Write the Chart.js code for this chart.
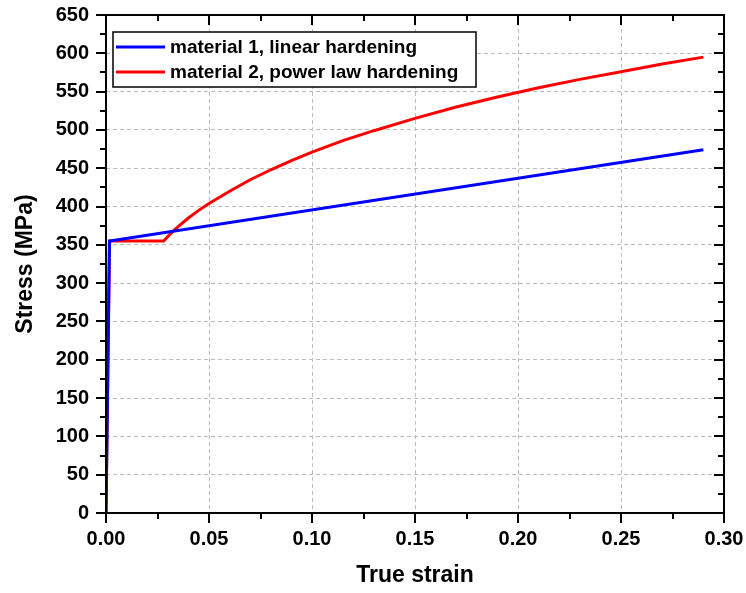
<!DOCTYPE html>
<html>
<head>
<meta charset="utf-8">
<script src="https://cdn.jsdelivr.net/npm/chart.js@4.4.0/dist/chart.umd.min.js"></script>
<style>
  body { margin: 0; background: #fff; }
  canvas { display: block; }
</style>
</head>
<body>
<canvas id="StressCanvas" width="746" height="593"></canvas>
<script>
// material 1, linear hardening
var strain1 = [0, 0.0017, 0.29];
var stress1 = [0, 355, 474];

// material 2, power law hardening
var strain2 = [0, 0.0017, 0.028, 0.03, 0.033, 0.036, 0.04, 0.045, 0.05, 0.06, 0.07, 0.08, 0.09, 0.10,
               0.115, 0.13, 0.15, 0.17, 0.19, 0.21, 0.23, 0.25, 0.27, 0.29];
var stress2 = [0, 355, 355, 361, 369, 376, 385, 395, 404, 420, 435, 448, 460, 471,
               486, 499, 515, 530, 543, 555, 566, 576, 586, 595];

var seriesLabels = ["material 1, linear hardening", "material 2, power law hardening"];
var xTicks = [0, 0.05, 0.10, 0.15, 0.20, 0.25, 0.30];
var yTicks = [0, 50, 100, 150, 200, 250, 300, 350, 400, 450, 500, 550, 600, 650];

function toPoints(xs, ys) {
    var pts = [];
    xs.forEach(function (x, i) {
        pts.push({ x: x, y: ys[i] });
    });
    return pts;
}

var FONT = "'Liberation Sans', Arial, sans-serif";

// frame + inward/outward ticks, origin-style
var framePlugin = {
    id: 'frame',
    afterDatasetsDraw: function (chart) {
        var ctx = chart.ctx;
        var a = chart.chartArea;
        var xs = chart.scales.x, ys = chart.scales.y;
        ctx.save();
        ctx.strokeStyle = '#000';
        ctx.lineWidth = 2;
        ctx.strokeRect(a.left, a.top, a.right - a.left, a.bottom - a.top);

        ctx.beginPath();
        var i, v, p, len;
        for (i = 0; i < xTicks.length * 2 - 1; i++) {
            v = i * 0.025;
            p = Math.round(xs.getPixelForValue(v));
            len = (i % 2 === 0) ? 10 : 6;
            ctx.moveTo(p, a.bottom);
            ctx.lineTo(p, a.bottom + len);
            ctx.moveTo(p, a.top);
            ctx.lineTo(p, a.top + len);
        }
        for (i = 0; i < yTicks.length * 2 - 1; i++) {
            v = i * 25;
            p = Math.round(ys.getPixelForValue(v));
            len = (i % 2 === 0) ? 10 : 6;
            ctx.moveTo(a.left, p);
            ctx.lineTo(a.left - len, p);
            ctx.moveTo(a.right, p);
            ctx.lineTo(a.right - len, p);
        }
        ctx.stroke();
        ctx.restore();
    }
};

var legendPlugin = {
    id: 'boxLegend',
    afterDraw: function (chart) {
        var ctx = chart.ctx;
        var a = chart.chartArea;
        var bx = a.left + 7, by = a.top + 17, bw = 363, bh = 55;
        ctx.save();
        ctx.fillStyle = '#fff';
        ctx.fillRect(bx, by, bw, bh);
        ctx.strokeStyle = '#000';
        ctx.lineWidth = 1.5;
        ctx.strokeRect(bx, by, bw, bh);
        ctx.font = 'bold 19px ' + FONT;
        ctx.textBaseline = 'middle';
        chart.data.datasets.forEach(function (ds, i) {
            var y = by + 15 + i * 25;
            ctx.strokeStyle = ds.borderColor;
            ctx.lineWidth = 3;
            ctx.beginPath();
            ctx.moveTo(bx + 3, y);
            ctx.lineTo(bx + 52, y);
            ctx.stroke();
            ctx.fillStyle = '#000';
            ctx.fillText(ds.label, bx + 57, y + 1);
        });
        ctx.restore();
    }
};

function gridColor(edges) {
    return function (c) {
        if (c.tick && edges.indexOf(+c.tick.value.toFixed(4)) >= 0) return 'rgba(0,0,0,0)';
        return '#bdbdbd';
    };
}

// keep the plot box where the reference has it
function noPad(s) {
    s.paddingTop = 0;
    s.paddingBottom = 0;
    s.paddingLeft = 0;
    s.paddingRight = 0;
}

new Chart(document.getElementById("StressCanvas"), {
    type: 'line',
    data: {
        datasets: [
            {
                label: seriesLabels[0],
                data: toPoints(strain1, stress1),
                borderColor: '#0000ff',
                borderWidth: 3,
                pointRadius: 0,
                tension: 0
            },
            {
                label: seriesLabels[1],
                data: toPoints(strain2, stress2),
                borderColor: '#ff0000',
                borderWidth: 3,
                pointRadius: 0,
                tension: 0
            }
        ]
    },
    options: {
        responsive: false,
        animation: false,
        layout: { padding: { left: 0, top: 15, right: 22, bottom: 0 } },
        plugins: {
            legend: { display: false },
            tooltip: { enabled: false }
        },
        scales: {
            x: {
                type: 'linear',
                min: 0,
                max: 0.3,
                afterFit: function (s) { s.height = 80; noPad(s); },
                afterBuildTicks: function (s) {
                    s.ticks = xTicks.map(function (v) { return { value: v }; });
                },
                border: { display: false, dash: [4, 3] },
                grid: {
                    drawTicks: false,
                    color: gridColor([0, 0.3]),
                    lineWidth: 1
                },
                ticks: {
                    padding: 14,
                    maxRotation: 0,
                    color: '#000',
                    font: { family: FONT, size: 20, weight: 'bold' },
                    callback: function (v) { return v.toFixed(2); }
                },
                title: {
                    display: true,
                    text: 'True strain',
                    color: '#000',
                    padding: { top: 0, bottom: 4 },
                    font: { family: FONT, size: 23, weight: 'bold' }
                }
            },
            y: {
                min: 0,
                max: 650,
                afterFit: function (s) { s.width = 106; noPad(s); },
                afterBuildTicks: function (s) {
                    s.ticks = yTicks.map(function (v) { return { value: v }; });
                },
                border: { display: false, dash: [4, 3] },
                grid: {
                    drawTicks: false,
                    color: gridColor([0, 650]),
                    lineWidth: 1
                },
                ticks: {
                    padding: 17,
                    color: '#000',
                    font: { family: FONT, size: 20, weight: 'bold' }
                },
                title: {
                    display: true,
                    text: 'Stress (MPa)',
                    color: '#000',
                    padding: { top: 12, bottom: 0 },
                    font: { family: FONT, size: 23, weight: 'bold' }
                }
            }
        }
    },
    plugins: [framePlugin, legendPlugin]
});
</script>
</body>
</html>
